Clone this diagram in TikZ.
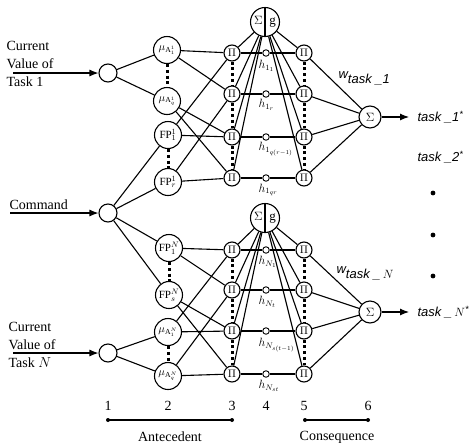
\documentclass[tikz,border=0pt]{standalone}
\usepackage{fontspec}
\setmainfont{Liberation Serif}
\setsansfont{Liberation Sans}
\usetikzlibrary{arrows.meta,calc}
\begin{document}
\begin{tikzpicture}[x=1pt,y=-1pt,line width=1.1pt,
  every node/.style={inner sep=0pt},
  inp/.style={circle,draw,minimum size=18pt},
  mem/.style={circle,draw,minimum size=27pt,font=\fontsize{11}{12}\selectfont},
  pin/.style={circle,draw,minimum size=16pt,font=\fontsize{11}{12}\selectfont},
  hc/.style={circle,draw,minimum size=6.5pt,line width=0.9pt},
  sgn/.style={circle,draw,minimum size=29pt,font=\fontsize{13}{14}\selectfont},
  sumo/.style={circle,draw,minimum size=22pt,font=\fontsize{12}{13}\selectfont},
  dotsv/.style={line width=3pt,dash pattern=on 3pt off 2.8pt},
  lbl/.style={font=\fontsize{14}{18}\selectfont,align=left,anchor=west},
  tsk/.style={font=\sffamily\itshape\fontsize{13}{15}\selectfont,anchor=west},
  hl/.style={font=\fontsize{11.5}{13}\selectfont,anchor=west},
  num/.style={font=\fontsize{14}{15}\selectfont},
  arr/.style={-{Latex[length=9pt,width=7pt]}}
]
\useasboundingbox (0,0) rectangle (471,445);

% layer 1
\node[inp] (i1) at (108,73) {};
\node[inp] (ic) at (108,213) {};
\node[inp] (iN) at (108,353) {};

% layer 2
\node[mem] (a11) at (167,50) {$\mu_{\mathrm{A}_1^1}$};
\node[mem] (aq1) at (167,101) {$\mu_{\mathrm{A}_q^1}$};
\node[mem] (f11) at (168,135) {FP$_1^1$};
\node[mem] (fr1) at (168,182) {FP$_r^1$};
\node[mem] (f1N) at (169,248) {FP$_1^N$};
\node[mem] (fsN) at (169,295) {FP$_s^N$};
\node[mem] (a1N) at (168,332) {$\mu_{\mathrm{A}_1^N}$};
\node[mem] (aqN) at (168,376) {$\mu_{\mathrm{A}_q^N}$};

% layer 3, 4, 5
\foreach \i/\y in {1/53,2/94,3/137,4/178,5/250,6/290,7/331,8/374}{
  \node[pin] (p\i) at (232,\y) {$\Pi$};
  \node[hc] (h\i) at (266,\y) {};
  \node[pin] (q\i) at (304,\y) {$\Pi$};
  \draw (p\i) -- (h\i) -- (q\i);
}
\node[sgn] (sg1) at (265,22) {$\Sigma$\hspace{7pt}g};
\draw (sg1.north) -- (sg1.south);
\node[sgn] (sg2) at (265,218) {$\Sigma$\hspace{7pt}g};
\draw (sg2.north) -- (sg2.south);

% layer 6
\node[sumo] (o1) at (370,117) {$\Sigma$};
\node[sumo] (o2) at (370,312) {$\Sigma$};

% inputs
\coordinate (s1) at (13,73);
\coordinate (sc) at (10,213);
\coordinate (sN) at (13,353);
\draw[arr] (s1) -- (i1);
\draw[arr] (sc) -- (ic);
\draw[arr] (sN) -- (iN);
\node[lbl] (t1txt) at (6,64) {Current\\Value of\\Task 1};
\node[lbl,anchor=base west] (cmdtxt) at (9,209) {Command};
\node[lbl] (tNtxt) at (8,345) {Current\\Value of\\Task $N$};

% layer 1 -> 2
\draw (i1) -- (a11); \draw (i1) -- (aq1);
\draw (ic) -- (f11); \draw (ic) -- (fr1); \draw (ic) -- (f1N); \draw (ic) -- (fsN);
\draw (iN) -- (a1N); \draw (iN) -- (aqN);

% dotted columns
\draw[dotsv] (a11.south) -- (aq1.north);
\draw[dotsv] (f11.south) -- (fr1.north);
\draw[dotsv] (f1N.south) -- (fsN.north);
\draw[dotsv] (a1N.south) -- (aqN.north);
\foreach \a/\b in {1/2,2/3,3/4,5/6,6/7,7/8}{
  \draw[dotsv] (p\a.south) -- (p\b.north);
  \draw[dotsv] (q\a.south) -- (q\b.north);
}

% layer 2 -> 3
\draw (a11) -- (p1); \draw (f11) -- (p1);
\draw (a11) -- (p2); \draw (fr1) -- (p2);
\draw (aq1) -- (p3); \draw (f11) -- (p3);
\draw (aq1) -- (p4); \draw (fr1) -- (p4);
\draw (f1N) -- (p5); \draw (a1N) -- (p5);
\draw (f1N) -- (p6); \draw (aqN) -- (p6);
\draw (fsN) -- (p7); \draw (a1N) -- (p7);
\draw (fsN) -- (p8); \draw (aqN) -- (p8);

% sigma-g links
\foreach \i in {1,2,3,4}{\draw (sg1) -- (p\i); \draw (sg1) -- (q\i); \draw (q\i) -- (o1);}
\foreach \i in {5,6,7,8}{\draw (sg2) -- (p\i); \draw (sg2) -- (q\i); \draw (q\i) -- (o2);}

% h labels
\node[hl] (hl1) at (258,66) {$h_{1_1}$};
\node[hl] (hl2) at (258,105) {$h_{1_r}$};
\node[hl] (hl3) at (258,149) {$h_{1_{q(r-1)}}$};
\node[hl] (hl4) at (258,190) {$h_{1_{qr}}$};
\node[hl] (hl5) at (258,262) {$h_{N_1}$};
\node[hl] (hl6) at (258,302) {$h_{N_t}$};
\node[hl] (hl7) at (258,345) {$h_{N_{s(t-1)}}$};
\node[hl] (hl8) at (258,386) {$h_{N_{st}}$};

% outputs
\coordinate (e1) at (409,117);
\coordinate (e2) at (409,312);
\draw[arr] (o1) -- (e1);
\draw[arr] (o2) -- (e2);
\node[tsk] (w1) at (338,78) {w\raisebox{-5pt}{task \_1}};
\node[tsk] (wN) at (336,273) {w\raisebox{-5pt}{task \_\,$N$}};
\node[tsk] (out1) at (417,117) {task \_1\textsuperscript{*}};
\node[tsk] (out2) at (417,157) {task \_2\textsuperscript{*}};
\node[tsk] (outN) at (417,312) {task \_\,$N$\textsuperscript{*}};
\foreach \y [count=\k] in {193,235,276}{\fill (433,\y) circle (2.4pt) coordinate (bd\k);}

% bottom axis
\foreach \x/\n in {108/1,168/2,232/3,266/4,304/5,368/6}{\node[num] (n\n) at (\x,406) {\n};}
\coordinate (ax1) at (108,420); \coordinate (ax3) at (232,420);
\coordinate (ax5) at (305,420); \coordinate (ax6) at (368,420);
\draw (ax1) -- (ax3); \draw (ax5) -- (ax6);
\foreach \c in {ax1,ax3,ax5,ax6}{\fill (\c) circle (2pt);}
\node[num] (ante) at (170,437) {Antecedent};
\node[num] (cons) at (337,437) {Consequence};
\end{tikzpicture}
\end{document}
